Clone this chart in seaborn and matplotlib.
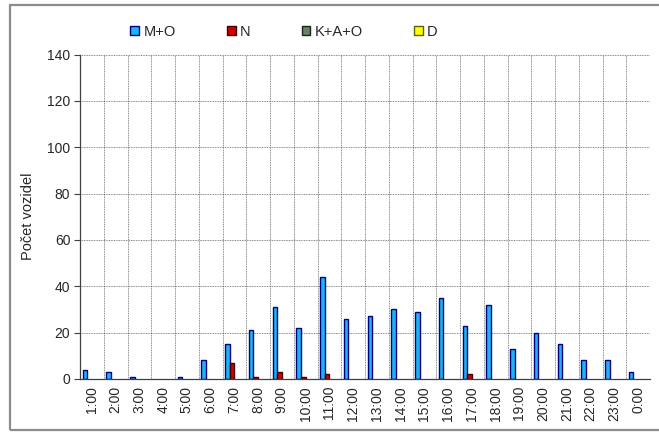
import matplotlib
matplotlib.use("Agg")
import matplotlib.pyplot as plt
import seaborn as sns
import pandas as pd
from matplotlib.patches import Patch, Rectangle

hours = ["1:00", "2:00", "3:00", "4:00", "5:00", "6:00", "7:00", "8:00", "9:00", "10:00",
         "11:00", "12:00", "13:00", "14:00", "15:00", "16:00", "17:00", "18:00", "19:00",
         "20:00", "21:00", "22:00", "23:00", "0:00"]
series_names = ["M+O", "N", "K+A+O", "D"]
mo = [4, 3, 1, 0, 1, 8, 15, 21, 31, 22, 44, 26, 27, 30, 29, 35, 23, 32, 13, 20, 15, 8, 8, 3]
n = [0, 0, 0, 0, 0, 0, 7, 1, 3, 1, 2, 0, 0, 0, 0, 0, 2, 0, 0, 0, 0, 0, 0, 0]
kao = [0] * 24
d = [0] * 24

fills = ["#1EB4F0", "#D00000", "#6B7F6B", "#FFFF00"]
edges = ["#000080", "#400000", "#202020", "#606000"]

rows = []
for name, vals in zip(series_names, [mo, n, kao, d]):
    for h, v in zip(hours, vals):
        rows.append({"hour": h, "series": name, "value": v})
df = pd.DataFrame(rows)

sns.set_style("white")
plt.rcParams["font.family"] = ["Liberation Sans", "DejaVu Sans"]

fig = plt.figure(figsize=(6.59, 4.34), dpi=100)
W, H = 659, 434
ax = fig.add_axes([80 / W, (H - 379) / H, (650 - 80) / W, (379 - 54.5) / H])

sns.barplot(data=df, x="hour", y="value", hue="series", order=hours,
            hue_order=series_names, palette=fills, width=0.78, dodge=True,
            ax=ax, legend=False, linewidth=1.0, saturation=1)

for cont, ec in zip(ax.containers, edges):
    for p in cont.patches:
        p.set_edgecolor(ec)
        if p.get_height() == 0:
            p.set_linewidth(0)

ax.set_xlim(-0.5, 23.5)
ax.set_ylim(0, 140)
ax.set_yticks(range(0, 141, 20))
ax.set_xticks(range(24))
ax.set_xticklabels(hours, rotation=90)
ax.set_xticks([i - 0.5 for i in range(25)], minor=True)
ax.tick_params(axis="x", which="major", length=0, pad=5, labelsize=10)
ax.tick_params(axis="x", which="minor", length=4, width=0.8, color="#404040", direction="out")
ax.tick_params(axis="y", which="major", length=4, width=0.8, color="#404040", direction="out",
               left=True, labelsize=10, pad=3)
ax.grid(False)
ax.grid(axis="y", which="major", linestyle=(0, (1.2, 1)), color="#606060", linewidth=0.55)
ax.grid(axis="x", which="minor", linestyle=(0, (1.2, 1)), color="#606060", linewidth=0.55)
ax.set_axisbelow(True)
for s in ["top", "right"]:
    ax.spines[s].set_visible(False)
for s in ["left", "bottom"]:
    ax.spines[s].set_color("#404040")
    ax.spines[s].set_linewidth(0.9)
ax.set_xlabel("")
ax.set_ylabel("Počet vozidel", fontsize=10.5, labelpad=9)

handles = [Patch(facecolor=f, edgecolor=e, linewidth=1.0) for f, e in zip(fills, edges)]
fig.legend(handles, series_names, loc="center", bbox_to_anchor=(284 / W, 1 - 32 / H),
           ncol=4, frameon=False, handlelength=0.6, handleheight=0.6, handletextpad=0.3,
           columnspacing=3.5, fontsize=10.5)

fig.patches.append(Rectangle((10 / W, 4 / H), 660 / W, (430 - 5) / H, transform=fig.transFigure,
                             fill=False, edgecolor="#8C8C8C", linewidth=1.6))

fig.savefig("out.png", dpi=100)
